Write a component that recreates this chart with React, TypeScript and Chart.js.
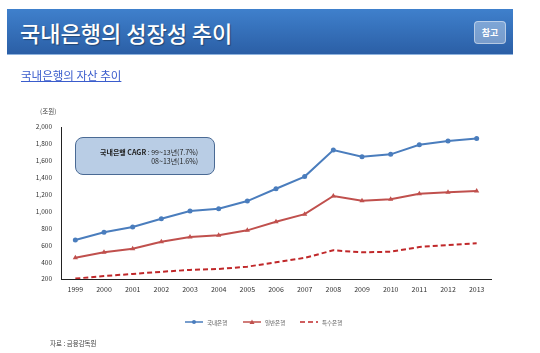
import React, { useEffect, useRef } from "react";
import { Chart, registerables } from "chart.js";

Chart.register(...registerables);

const years = ["1999", "2000", "2001", "2002", "2003", "2004", "2005", "2006", "2007", "2008", "2009", "2010", "2011", "2012", "2013"];
const domesticBanks = [662, 753, 816, 914, 1005, 1032, 1123, 1269, 1413, 1727, 1648, 1676, 1790, 1834, 1864];
const commercialBanks = [452, 516, 559, 642, 697, 717, 776, 878, 968, 1183, 1127, 1144, 1210, 1226, 1242];
const specialBanks = [205, 235, 260, 285, 308, 318, 346, 398, 450, 540, 516, 523, 579, 603, 623];
const seriesNames = ["국내은행", "일반은행", "특수은행"];
const yMin = 200;
const yMax = 2000;
const yStep = 200;

const FONT = "'Noto Sans CJK KR', 'Noto Sans', sans-serif";

const legendPlugin = {
  id: "customLegend",
  afterDraw(chart: any) {
    const ctx = chart.ctx;
    const items = chart.data.datasets;
    const xs = [185, 243, 300];
    const y = 322;
    ctx.save();
    items.forEach((ds: any, i: number) => {
      const x0 = xs[i];
      const x1 = x0 + 18;
      ctx.strokeStyle = ds.borderColor;
      ctx.lineWidth = 1.5;
      ctx.setLineDash(ds.borderDash || []);
      ctx.beginPath();
      ctx.moveTo(x0, y);
      ctx.lineTo(x1, y);
      ctx.stroke();
      ctx.setLineDash([]);
      const cx = (x0 + x1) / 2;
      ctx.fillStyle = ds.borderColor;
      if (ds.pointStyle === "circle" && ds.pointRadius > 0) {
        ctx.beginPath();
        ctx.arc(cx, y, 2, 0, Math.PI * 2);
        ctx.fill();
      } else if (ds.pointStyle === "triangle" && ds.pointRadius > 0) {
        ctx.beginPath();
        ctx.moveTo(cx, y - 2.5);
        ctx.lineTo(cx + 2.5, y + 2);
        ctx.lineTo(cx - 2.5, y + 2);
        ctx.closePath();
        ctx.fill();
      }
      ctx.fillStyle = "#555";
      ctx.font = "5.5px " + FONT;
      ctx.textBaseline = "middle";
      ctx.textAlign = "left";
      ctx.fillText(ds.label, x1 + 4, y + 0.5);
    });
    ctx.restore();
  },
};

function LineChart() {
  const ref = useRef<HTMLCanvasElement | null>(null);
  useEffect(() => {
    if (!ref.current) return;
    const chart = new Chart(ref.current, {
      type: "line",
      data: {
        labels: years,
        datasets: [
          {
            label: seriesNames[0],
            data: domesticBanks,
            borderColor: "#4a7dbd",
            backgroundColor: "#4a7dbd",
            borderWidth: 2,
            pointStyle: "circle",
            pointRadius: 2.5,
            pointBorderWidth: 0,
            tension: 0,
          },
          {
            label: seriesNames[1],
            data: commercialBanks,
            borderColor: "#c0504d",
            backgroundColor: "#c0504d",
            borderWidth: 2,
            pointStyle: "triangle",
            pointRadius: 3,
            pointBorderWidth: 0,
            tension: 0,
          },
          {
            label: seriesNames[2],
            data: specialBanks,
            borderColor: "#c0282a",
            backgroundColor: "#c0282a",
            borderWidth: 2,
            borderDash: [5, 3],
            pointRadius: 0,
            tension: 0,
          },
        ],
      },
      options: {
        responsive: false,
        animation: false,
        layout: { padding: { left: 0, right: 49, top: 127, bottom: 54 } },
        plugins: { legend: { display: false }, tooltip: { enabled: false } },
        scales: {
          x: {
            offset: true,
            grid: { display: false, drawTicks: false },
            border: { display: true, color: "#222", width: 1 },
            ticks: { color: "#333", font: { size: 7, family: FONT }, padding: 6, maxRotation: 0 },
            afterFit(scale: any) {
              scale.height = 20;
            },
          },
          y: {
            min: yMin,
            max: yMax,
            grid: { display: false, drawTicks: false },
            border: { display: true, color: "#222", width: 1 },
            ticks: {
              stepSize: yStep,
              color: "#333",
              font: { size: 6.5, family: FONT },
              padding: 9,
              callback: (v: any) => Number(v).toLocaleString("en-US"),
            },
            afterFit(scale: any) {
              scale.width = 61;
            },
          },
        },
      },
      plugins: [legendPlugin],
    });
    return () => chart.destroy();
  }, []);
  return <canvas ref={ref} width={540} height={353} style={{ position: "absolute", left: 0, top: 0 }} />;
}

export default function App() {
  return (
    <div style={{ position: "absolute", left: 0, top: 0, width: 540, height: 353, background: "#fff", overflow: "hidden", fontFamily: FONT }}>
      <LineChart />
      <div
        style={{
          position: "absolute",
          left: 7,
          top: 9,
          width: 506,
          height: 46,
          background: "linear-gradient(to bottom, #3f80cc, #2b5fa6)",
          boxSizing: "border-box",
          borderBottom: "1px solid #8fb3de",
        }}
      >
        <div
          style={{
            position: "absolute",
            left: 13,
            top: 8,
            color: "#fff",
            fontSize: 22,
            fontWeight: 500,
            lineHeight: "30px",
            whiteSpace: "nowrap",
            textShadow: "1px 1px 1px rgba(0,0,0,0.35)",
          }}
        >
          국내은행의 성장성 추이
        </div>
        <div
          style={{
            position: "absolute",
            left: 467,
            top: 12,
            width: 32,
            height: 23,
            background: "rgba(255,255,255,0.35)",
            border: "1px solid rgba(255,255,255,0.45)",
            borderRadius: 4,
            boxSizing: "border-box",
            color: "#fff",
            fontSize: 9,
            fontWeight: 700,
            lineHeight: "21px",
            textAlign: "center",
          }}
        >
          참고
        </div>
      </div>
      <div
        style={{
          position: "absolute",
          left: 21,
          top: 67,
          color: "#3a5ccc",
          fontSize: 11.5,
          lineHeight: "16px",
          textDecoration: "underline",
          whiteSpace: "nowrap",
        }}
      >
        국내은행의 자산 추이
      </div>
      <div style={{ position: "absolute", left: 40, top: 106, fontSize: 6.5, color: "#444", lineHeight: "10px" }}>(조원)</div>
      <div
        style={{
          position: "absolute",
          left: 75,
          top: 137,
          width: 140,
          height: 38,
          background: "#b9cde5",
          border: "1px solid #4a6a94",
          borderRadius: 8,
          boxSizing: "border-box",
          fontSize: 7,
          color: "#222",
        }}
      >
        <div style={{ position: "absolute", right: 16, top: 10, lineHeight: "9px", textAlign: "right", whiteSpace: "nowrap" }}>
          <div>
            <b>국내은행 CAGR</b> : 99~13년(7.7%)
          </div>
          <div>08~13년(1.6%)</div>
        </div>
      </div>
      <div style={{ position: "absolute", left: 50, top: 338, fontSize: 6.5, color: "#444", lineHeight: "10px", whiteSpace: "nowrap" }}>
        자료 : 금융감독원
      </div>
    </div>
  );
}
